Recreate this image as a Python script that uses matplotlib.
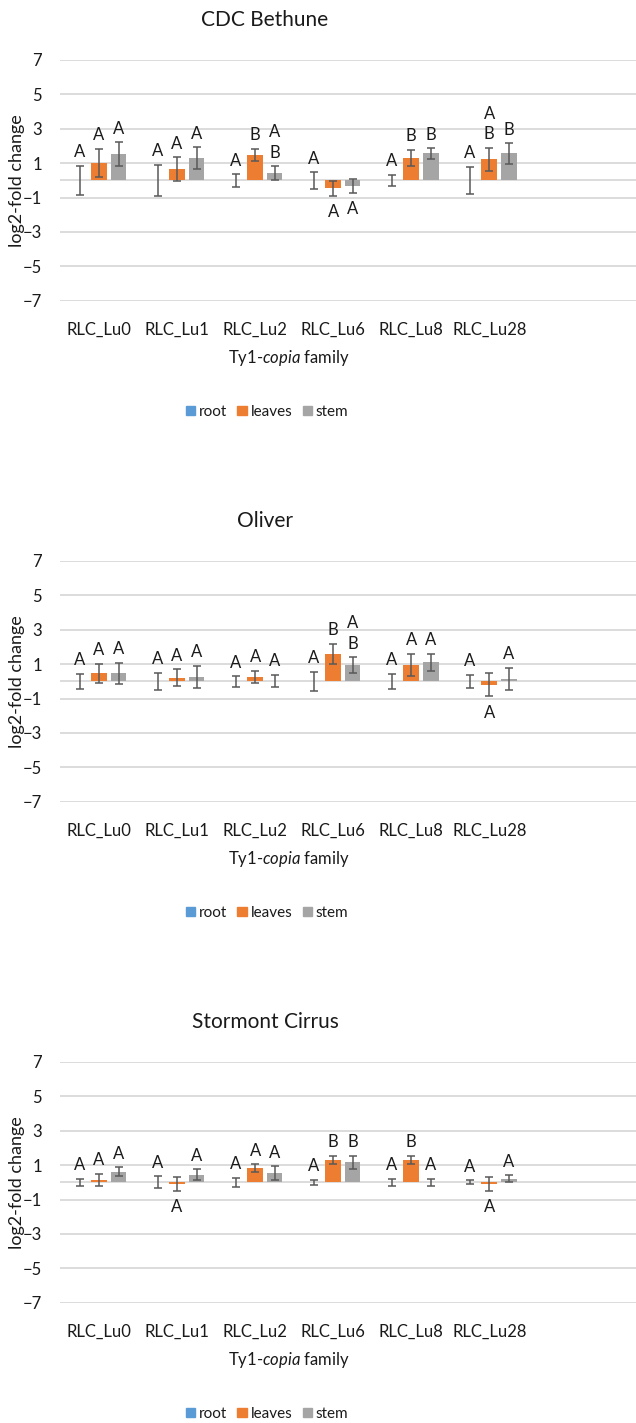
import matplotlib.pyplot as plt
from matplotlib.patches import Patch

plt.rcParams['font.family'] = ['Lato', 'DejaVu Sans']
plt.rcParams['mathtext.fontset'] = 'custom'
plt.rcParams['mathtext.rm'] = 'Lato'
plt.rcParams['mathtext.it'] = 'Lato:italic'

families = ['RLC_Lu0', 'RLC_Lu1', 'RLC_Lu2', 'RLC_Lu6', 'RLC_Lu8', 'RLC_Lu28']
tissues = ['root', 'leaves', 'stem']
colors = ['#5B9BD5', '#ED7D31', '#A5A5A5']
cultivars = ['CDC Bethune', 'Oliver', 'Stormont Cirrus']

# root is the calibrator tissue, so its mean log2 change is 0
root_mean = [0, 0, 0, 0, 0, 0]

bethune_root_err = [0.86, 0.90, 0.36, 0.48, 0.31, 0.78]
bethune_leaves = [1.02, 0.67, 1.47, -0.47, 1.31, 1.22]
bethune_leaves_err = [0.82, 0.68, 0.36, 0.43, 0.47, 0.66]
bethune_stem = [1.53, 1.29, 0.43, -0.33, 1.57, 1.57]
bethune_stem_err = [0.69, 0.63, 0.39, 0.41, 0.30, 0.59]
bethune_root_grp = ['A', 'A', 'A', 'A', 'A', 'A']
bethune_leaves_grp = ['A', 'A', 'B', 'A', 'B', 'A\nB']
bethune_stem_grp = ['A', 'A', 'A\nB', 'A', 'B', 'B']

oliver_root_err = [0.45, 0.49, 0.30, 0.55, 0.45, 0.39]
oliver_leaves = [0.47, 0.21, 0.25, 1.61, 0.97, -0.20]
oliver_leaves_err = [0.55, 0.49, 0.37, 0.59, 0.64, 0.68]
oliver_stem = [0.47, 0.25, 0.02, 0.95, 1.11, 0.15]
oliver_stem_err = [0.60, 0.66, 0.37, 0.45, 0.49, 0.64]
oliver_root_grp = ['A', 'A', 'A', 'A', 'A', 'A']
oliver_leaves_grp = ['A', 'A', 'A', 'B', 'A', 'A']
oliver_stem_grp = ['A', 'A', 'A', 'A\nB', 'A', 'A']

cirrus_root_err = [0.21, 0.35, 0.25, 0.15, 0.20, 0.11]
cirrus_leaves = [0.13, -0.10, 0.81, 1.29, 1.29, -0.08]
cirrus_leaves_err = [0.37, 0.40, 0.23, 0.25, 0.25, 0.40]
cirrus_stem = [0.62, 0.44, 0.52, 1.17, 0.00, 0.21]
cirrus_stem_err = [0.25, 0.31, 0.41, 0.37, 0.22, 0.21]
cirrus_root_grp = ['A', 'A', 'A', 'A', 'A', 'A']
cirrus_leaves_grp = ['A', 'A', 'A', 'B', 'B', 'A']
cirrus_stem_grp = ['A', 'A', 'A', 'B', 'A', 'A']

panels = [
    ([root_mean, bethune_leaves, bethune_stem],
     [bethune_root_err, bethune_leaves_err, bethune_stem_err],
     [bethune_root_grp, bethune_leaves_grp, bethune_stem_grp]),
    ([root_mean, oliver_leaves, oliver_stem],
     [oliver_root_err, oliver_leaves_err, oliver_stem_err],
     [oliver_root_grp, oliver_leaves_grp, oliver_stem_grp]),
    ([root_mean, cirrus_leaves, cirrus_stem],
     [cirrus_root_err, cirrus_leaves_err, cirrus_stem_err],
     [cirrus_root_grp, cirrus_leaves_grp, cirrus_stem_grp]),
]

W, H = 636, 1423
fig = plt.figure(figsize=(W / 100, H / 100), dpi=100)


def fy(y):
    return 1 - y / H


offsets = [0, 501, 1002]
grid_col = '#D9D9D9'
txt_col = '#1a1a1a'

for k, (means, errs, groups) in enumerate(panels):
    off = offsets[k]
    top, bottom = 60 + off, 300.7 + off
    ax = fig.add_axes([60 / W, fy(bottom), 576 / W, (bottom - top) / H])
    x = list(range(len(families)))
    for j in range(3):
        xs = [i + (j - 1) * 0.25 for i in x]
        ax.bar(xs, means[j], 0.2, color=colors[j], zorder=2,
               yerr=errs[j],
               error_kw=dict(ecolor='#595959', elinewidth=1.1,
                             capsize=3, capthick=1.1, zorder=3))
        for xi, v, e, g in zip(xs, means[j], errs[j], groups[j]):
            if v < 0:
                ax.annotate(g, (xi, v - e), xytext=(0, -6),
                            textcoords='offset points', ha='center',
                            va='top', fontsize=12, color=txt_col,
                            linespacing=1.35)
            else:
                ax.annotate(g, (xi, v + e), xytext=(0, 4),
                            textcoords='offset points', ha='center',
                            va='bottom', fontsize=12, color=txt_col,
                            linespacing=1.35)

    ax.set_xlim(-0.5, 6.88)
    ax.set_ylim(-7, 7)
    ax.set_yticks(range(-7, 8, 2))
    ax.set_xticks(x)
    ax.set_xticklabels(families)
    ax.yaxis.grid(True, color=grid_col, lw=1.3, zorder=0)
    ax.axhline(0, color=grid_col, lw=1.3, zorder=1)
    ax.set_axisbelow(True)
    for s in ax.spines.values():
        s.set_visible(False)
    ax.tick_params(axis='y', length=0, pad=13, labelsize=12, labelcolor=txt_col)
    ax.tick_params(axis='x', length=0, pad=15, labelsize=12, labelcolor=txt_col)
    ax.set_ylabel('log2-fold change', fontsize=13, color=txt_col)
    ax.yaxis.set_label_coords(-35 / 576, 0.5)

    fig.text(265 / W, fy(20 + off), cultivars[k], ha='center', va='center',
             fontsize=15, color=txt_col)
    fig.text(289 / W, fy(358 + off), 'Ty1-$\\it{copia}$ family', ha='center',
             va='center', fontsize=12, color=txt_col)
    handles = [Patch(color=c, label=t) for c, t in zip(colors, tissues)]
    fig.legend(handles=handles, loc='center', bbox_to_anchor=(267 / W, fy(412 + off)),
               ncol=3, frameon=False, fontsize=11, handlelength=0.6,
               handleheight=0.6, handletextpad=0.25, columnspacing=0.7,
               labelcolor=txt_col)

fig.savefig('out.png', dpi=100)
